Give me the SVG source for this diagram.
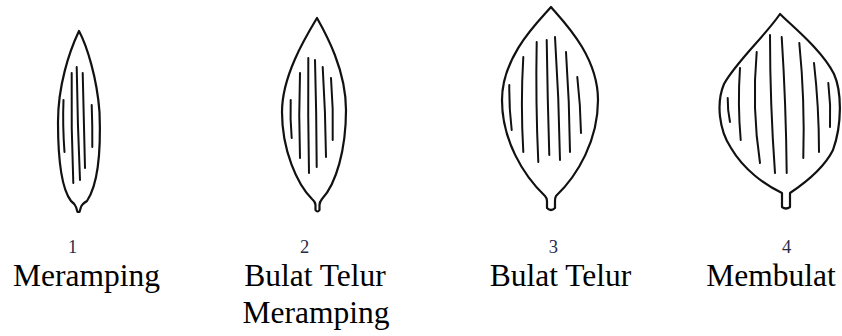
<svg xmlns="http://www.w3.org/2000/svg" width="842" height="336" viewBox="0 0 842 336">
  <style>
    .blade { fill: #fff; stroke: #111; stroke-width: 2.2; stroke-linejoin: round; }
    .vein { fill: none; stroke: #111; stroke-width: 2; stroke-linecap: round; }
    .num { font-family: "Liberation Serif", "Times New Roman", serif; font-size: 18.5px; text-anchor: middle; fill: #2a2a48; }
    .name { font-family: "Liberation Serif", "Times New Roman", serif; font-size: 31.5px; text-anchor: middle; fill: #000; }
  </style>
  <rect width="842" height="336" fill="#fff"/>

  <!-- 1: narrow leaf -->
  <g id="leaf-1">
    <path class="blade" d="M79,31 C87,46 97,78 99.5,112 C101,150 99,183 87,201 Q82,204 81,207 L79.5,212 L77.5,212 L76,207 Q75,204 71,201 C61,188 58,160 58,122 C58,86 69,52 79,31 Z"/>
    <path class="vein" d="M71.7,73 Q71,128 73.3,183"/>
    <path class="vein" d="M76.7,67 Q77.5,124 80,180"/>
    <path class="vein" d="M82.7,73 Q84,120 85,168"/>
    <path class="vein" d="M91.7,105 Q92.5,126 92.3,147"/>
    <path class="vein" d="M63.5,100 Q62.5,125 64.5,152" stroke-width="1.6"/>
  </g>

  <!-- 2: narrow ovate leaf -->
  <g id="leaf-2">
    <path class="blade" d="M317,18 C326,34 346,70 346,110 C346,150 336,184 322,199 Q319.5,202 319.5,205 L319.5,210 Q317.5,213 315.5,210 L315.5,205 Q315.5,202 312,199 C297,184 282,150 282,112 C282,76 305,38 317,18 Z"/>
    <path class="vein" d="M290.7,100 Q290,119 291.7,138"/>
    <path class="vein" d="M300,73 Q298.5,115 300,158"/>
    <path class="vein" d="M308.3,58 Q307.8,115 309,173"/>
    <path class="vein" d="M315,60 Q316.5,113 316.7,167"/>
    <path class="vein" d="M322.7,67 Q325.5,112 326,157"/>
    <path class="vein" d="M331,78 Q333.5,109 332.7,140"/>
  </g>

  <!-- 3: ovate leaf -->
  <g id="leaf-3">
    <path class="blade" d="M551,7 C562,20 598,55 598,100 C598,140 578,175 556,196 Q555,198 555,201 L555,208 Q551,212 547,208 L547,201 Q547,198 545,196 C523,175 502,140 502,100 C502,55 540,20 551,7 Z"/>
    <path class="vein" d="M509.3,85 Q509,108 511.7,130"/>
    <path class="vein" d="M523.3,57 Q520.5,104 523.3,152"/>
    <path class="vein" d="M536.7,42 Q535.5,102 538.3,162"/>
    <path class="vein" d="M546.7,40 Q547.5,98 549.3,155"/>
    <path class="vein" d="M555,37 Q559,98 560,160"/>
    <path class="vein" d="M566,52 Q569.5,102 570,152"/>
    <path class="vein" d="M577.3,77 Q580.5,105 581,133"/>
  </g>

  <!-- 4: roundish leaf -->
  <g id="leaf-4">
    <path class="blade" d="M780,14 C792,26 822,50 834,74 C842,92 842,125 833,150 C824,168 805,183 790,193 L790,207 Q786,210 782,207 L782,193 C765,185 744,170 731,148 C719,130 716,103 724,84 C736,62 765,36 780,14 Z"/>
    <path class="vein" d="M727.7,98 Q727.5,110 730,122"/>
    <path class="vein" d="M740,68 Q737.5,104 740.7,140"/>
    <path class="vein" d="M756.7,52 Q751.7,108 760,163"/>
    <path class="vein" d="M770,35 Q770,104 775,173"/>
    <path class="vein" d="M781.7,37 Q786,104 786.7,173"/>
    <path class="vein" d="M799.3,43 Q805,100 803.3,158"/>
    <path class="vein" d="M814,63 Q819,107 819,152"/>
    <path class="vein" d="M828.3,83 Q831,105 830,127"/>
  </g>

  <!-- numbers and shape names -->
  <g id="label-1">
    <text class="num" x="72.7" y="253">1</text>
    <text class="name" x="86.5" y="286">Meramping</text>
  </g>
  <g id="label-2">
    <text class="num" x="304.7" y="253">2</text>
    <text class="name" x="315" y="286">Bulat Telur</text>
    <text class="name" x="316" y="323">Meramping</text>
  </g>
  <g id="label-3">
    <text class="num" x="553.3" y="253">3</text>
    <text class="name" x="560.5" y="286">Bulat Telur</text>
  </g>
  <g id="label-4">
    <text class="num" x="786.7" y="253">4</text>
    <text class="name" x="771" y="286">Membulat</text>
  </g>
</svg>
